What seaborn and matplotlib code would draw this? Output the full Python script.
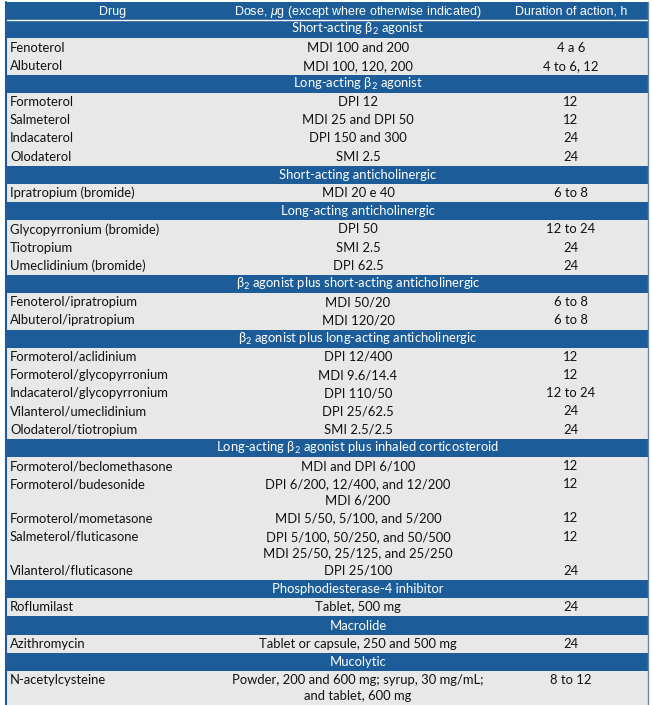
import matplotlib.pyplot as plt
import seaborn as sns

# === Table content ===
columns = ["Drug", r"Dose, $\mathit{\mu}$g (except where otherwise indicated)", "Duration of action, h"]

sections = [
    "Short-acting β$_2$ agonist",
    "Long-acting β$_2$ agonist",
    "Short-acting anticholinergic",
    "Long-acting anticholinergic",
    "β$_2$ agonist plus short-acting anticholinergic",
    "β$_2$ agonist plus long-acting anticholinergic",
    "Long-acting β$_2$ agonist plus inhaled corticosteroid",
    "Phosphodiesterase-4 inhibitor",
    "Macrolide",
    "Mucolytic",
]

drugs = [
    ["Fenoterol", "Albuterol"],
    ["Formoterol", "Salmeterol", "Indacaterol", "Olodaterol"],
    ["Ipratropium (bromide)"],
    ["Glycopyrronium (bromide)", "Tiotropium", "Umeclidinium (bromide)"],
    ["Fenoterol/ipratropium", "Albuterol/ipratropium"],
    ["Formoterol/aclidinium", "Formoterol/glycopyrronium", "Indacaterol/glycopyrronium",
     "Vilanterol/umeclidinium", "Olodaterol/tiotropium"],
    ["Formoterol/beclomethasone", "Formoterol/budesonide", "Formoterol/mometasone",
     "Salmeterol/fluticasone", "Vilanterol/fluticasone"],
    ["Roflumilast"],
    ["Azithromycin"],
    ["N-acetylcysteine"],
]

doses = [
    ["MDI 100 and 200", "MDI 100, 120, 200"],
    ["DPI 12", "MDI 25 and DPI 50", "DPI 150 and 300", "SMI 2.5"],
    ["MDI 20 e 40"],
    ["DPI 50", "SMI 2.5", "DPI 62.5"],
    ["MDI 50/20", "MDI 120/20"],
    ["DPI 12/400", "MDI 9.6/14.4", "DPI 110/50", "DPI 25/62.5", "SMI 2.5/2.5"],
    ["MDI and DPI 6/100", "DPI 6/200, 12/400, and 12/200\nMDI 6/200", "MDI 5/50, 5/100, and 5/200",
     "DPI 5/100, 50/250, and 50/500\nMDI 25/50, 25/125, and 25/250", "DPI 25/100"],
    ["Tablet, 500 mg"],
    ["Tablet or capsule, 250 and 500 mg"],
    ["Powder, 200 and 600 mg; syrup, 30 mg/mL;\nand tablet, 600 mg"],
]

durations = [
    ["4 a 6", "4 to 6, 12"],
    ["12", "12", "24", "24"],
    ["6 to 8"],
    ["12 to 24", "24", "24"],
    ["6 to 8", "6 to 8"],
    ["12", "12", "12 to 24", "24", "24"],
    ["12", "12", "12", "12", "24"],
    ["24"],
    ["24"],
    ["8 to 12"],
]

# === Style ===
sns.set_theme(style="white")
plt.rcParams["font.family"] = ["Lato", "DejaVu Sans"]
plt.rcParams["mathtext.fontset"] = "custom"
plt.rcParams["mathtext.rm"] = "Lato"
plt.rcParams["mathtext.it"] = "Liberation Sans:italic"
plt.rcParams["mathtext.default"] = "regular"

blue = "#1c5d99"
grey = "#e8e8e8"
ink = "#111111"
left, right = 6, 648
col_x = [10, 358, 571]
head_x = [113, 358, 571]
row_h = 18.2
line_h = 16.0
fs = 9.4

fig = plt.figure(figsize=(6.53, 7.05), dpi=100)
ax = fig.add_axes([0, 0, 1, 1])
ax.set_xlim(0, 653)
ax.set_ylim(705, 0)
ax.axis("off")

# header
y = 2.0
ax.barh(y + row_h / 2, right - left, left=left, height=row_h, color=blue, linewidth=0)
for i, name in enumerate(columns):
    ax.text(head_x[i], y + row_h / 2 + 0.5, name, color="white", ha="center", va="center",
            fontsize=9.0, family=["Liberation Sans", "DejaVu Sans"])
y += row_h

for s, title in enumerate(sections):
    ax.barh(y + row_h / 2, right - left, left=left, height=row_h, color=blue, linewidth=0)
    ax.text(358, y + row_h / 2, title, color="white", ha="center", va="center", fontsize=fs)
    y += row_h
    for drug, dose, dur in zip(drugs[s], doses[s], durations[s]):
        n = dose.count("\n") + 1
        h = row_h + line_h * (n - 1)
        ax.barh(y + h / 2, right - left, left=left, height=h, color=grey, linewidth=0)
        ax.text(col_x[0], y + row_h / 2, drug, color=ink, ha="left", va="center", fontsize=fs)
        for k, part in enumerate(dose.split("\n")):
            ax.text(col_x[1], y + row_h / 2 + k * line_h, part, color=ink, ha="center",
                    va="center", fontsize=fs)
        ax.text(col_x[2], y + row_h / 2, dur, color=ink, ha="center", va="center", fontsize=fs)
        y += h

# thin white rule under the header and outer borders
ax.plot([left, right], [2 + row_h, 2 + row_h], color="white", lw=1)
ax.plot([left, left], [2, y], color=blue, lw=1.5)
ax.plot([right, right], [2, y], color="#6a88a8", lw=1)

plt.savefig("out.png", dpi=100)
